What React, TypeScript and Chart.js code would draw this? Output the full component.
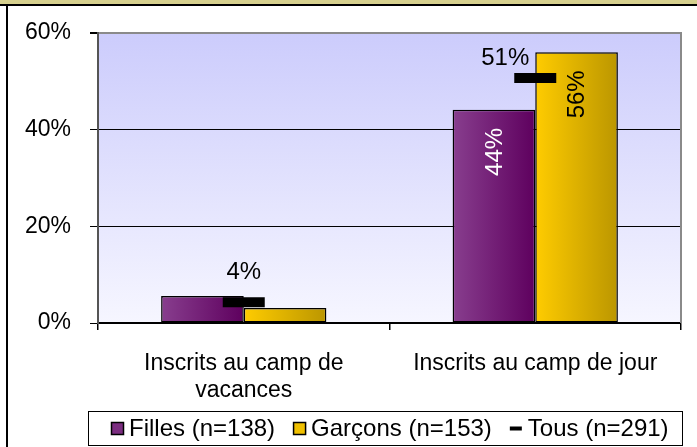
import React, { useEffect, useRef } from 'react';
import { Chart, registerables } from 'chart.js';

Chart.register(...registerables);

const categories: (string | string[])[] = [['Inscrits au camp de', 'vacances'], 'Inscrits au camp de jour'];
const seriesNames = ['Filles (n=138)', 'Garçons (n=153)', 'Tous (n=291)'];
const fillesValues = [5.6, 44.1];
const garconsValues = [3.1, 56.0];
const tousValues = [4.3, 50.7];
const fillesLabels = ['', '44%'];
const garconsLabels = ['', '56%'];
const tousLabels = ['4%', '51%'];
const yTickValues = [0, 20, 40, 60];

const FONT = '"Liberation Sans", Arial, sans-serif';
const CAT_PCT = 0.567;

function barGradient(ctx: any, dsIndex: number, c1: string, c2: string) {
  const chart = ctx.chart;
  const xs = chart.scales && chart.scales.x;
  if (!chart.chartArea || !xs || ctx.dataIndex === undefined) return c1;
  const center = xs.getPixelForValue(ctx.dataIndex);
  const catW = xs.width / categories.length;
  const w = (catW * CAT_PCT) / 2;
  const left = dsIndex === 0 ? center - w : center;
  const g = chart.ctx.createLinearGradient(left, 0, left + w, 0);
  g.addColorStop(0, c1);
  g.addColorStop(1, c2);
  return g;
}

const framePlugin = {
  id: 'frame',
  beforeDraw(chart: any) {
    const { ctx, width, height, chartArea } = chart;
    ctx.save();
    ctx.fillStyle = '#ffffff';
    ctx.fillRect(0, 0, width, height);
    ctx.fillStyle = '#d6d08e';
    ctx.fillRect(0, 0, width, 4);
    ctx.fillStyle = '#000000';
    ctx.fillRect(0, 4, width, 2);
    ctx.fillRect(6, 4, 2, height - 4);
    const g = ctx.createLinearGradient(0, chartArea.top, 0, chartArea.bottom);
    g.addColorStop(0, '#ccccfc');
    g.addColorStop(1, '#f6f6ff');
    ctx.fillStyle = g;
    ctx.fillRect(chartArea.left, chartArea.top, chartArea.right - chartArea.left, chartArea.bottom - chartArea.top);
    ctx.restore();
  },
  beforeDatasetsDraw(chart: any) {
    const { ctx, chartArea } = chart;
    ctx.save();
    ctx.strokeStyle = '#8a8a8a';
    ctx.lineWidth = 2;
    ctx.beginPath();
    ctx.moveTo(chartArea.right, chartArea.top - 1);
    ctx.lineTo(chartArea.right, chartArea.bottom);
    ctx.stroke();
    ctx.restore();
  },
};

const labelsPlugin = {
  id: 'valueLabels',
  afterDatasetsDraw(chart: any) {
    const { ctx } = chart;
    ctx.save();
    ctx.font = `24px ${FONT}`;
    const barLabelSets = [
      { ds: 0, labels: fillesLabels, color: '#ffffff' },
      { ds: 1, labels: garconsLabels, color: '#000000' },
    ];
    barLabelSets.forEach(({ ds, labels, color }) => {
      const meta = chart.getDatasetMeta(ds);
      meta.data.forEach((el: any, i: number) => {
        const txt = labels[i];
        if (!txt) return;
        ctx.save();
        ctx.translate(el.x + 1, el.y + 18);
        ctx.rotate(-Math.PI / 2);
        ctx.fillStyle = color;
        ctx.textAlign = 'right';
        ctx.textBaseline = 'middle';
        ctx.fillText(txt, 0, 0);
        ctx.restore();
      });
    });
    const meta = chart.getDatasetMeta(2);
    meta.data.forEach((el: any, i: number) => {
      const txt = tousLabels[i];
      if (!txt) return;
      const dx = i === 1 ? -30 : 0;
      const dy = i === 1 ? -20 : -30;
      ctx.fillStyle = '#000000';
      ctx.textAlign = 'center';
      ctx.textBaseline = 'middle';
      ctx.fillText(txt, el.x + dx, el.y + dy);
    });
    ctx.restore();
  },
};

const legendPlugin = {
  id: 'boxLegend',
  afterDraw(chart: any) {
    const { ctx } = chart;
    ctx.save();
    const bx = 88.5, by = 411.5, bw = 594, bh = 34;
    ctx.fillStyle = '#ffffff';
    ctx.fillRect(bx, by, bw, bh);
    ctx.strokeStyle = '#000000';
    ctx.lineWidth = 1;
    ctx.strokeRect(bx, by, bw, bh);
    ctx.font = `24px ${FONT}`;
    ctx.textBaseline = 'middle';
    ctx.textAlign = 'left';
    const sym = 13, symGap = 5, itemGap = 18;
    const widths = seriesNames.map((n) => ctx.measureText(n).width);
    const total = widths.reduce((a, b) => a + b, 0) + seriesNames.length * (sym + symGap) + (seriesNames.length - 1) * itemGap;
    let x = Math.round(390 - total / 2);
    const cy = by + bh / 2;
    const fills = ['#7b2d80', '#f0c000'];
    seriesNames.forEach((name, i) => {
      if (i < 2) {
        ctx.fillStyle = fills[i];
        ctx.fillRect(x, cy - 6.5, sym, sym);
        ctx.strokeStyle = '#000000';
        ctx.lineWidth = 1.5;
        ctx.strokeRect(x + 0.5, cy - 6, sym - 1, sym - 1);
      } else {
        ctx.fillStyle = '#000000';
        ctx.fillRect(x, cy - 2, 12, 4);
      }
      x += sym + symGap;
      ctx.fillStyle = '#000000';
      ctx.fillText(name, x, cy + 1);
      x += widths[i] + itemGap;
    });
    ctx.restore();
  },
};

export default function App() {
  const canvasRef = useRef<HTMLCanvasElement | null>(null);

  useEffect(() => {
    if (!canvasRef.current) return;
    Chart.defaults.font.family = FONT;
    const chart = new Chart(canvasRef.current, {
      type: 'bar',
      data: {
        labels: categories,
        datasets: [
          {
            type: 'bar',
            label: seriesNames[0],
            data: fillesValues,
            backgroundColor: (c: any) => barGradient(c, 0, '#883e8e', '#5e005e'),
            borderColor: '#000000',
            borderWidth: 1.5,
            borderSkipped: false,
            categoryPercentage: CAT_PCT,
            barPercentage: 1,
            order: 2,
          },
          {
            type: 'bar',
            label: seriesNames[1],
            data: garconsValues,
            backgroundColor: (c: any) => barGradient(c, 1, '#ffcc00', '#bb9600'),
            borderColor: '#000000',
            borderWidth: 1.5,
            borderSkipped: false,
            categoryPercentage: CAT_PCT,
            barPercentage: 1,
            order: 2,
          },
          {
            type: 'line',
            label: seriesNames[2],
            data: tousValues,
            showLine: false,
            pointStyle: 'line',
            pointRadius: 21,
            pointHoverRadius: 21,
            pointBorderWidth: 10,
            pointHoverBorderWidth: 10,
            pointBorderColor: '#000000',
            pointBackgroundColor: '#000000',
            order: 1,
          } as any,
        ],
      },
      options: {
        responsive: false,
        animation: false,
        events: [],
        layout: { autoPadding: false, padding: { top: 33, right: 16, left: 0, bottom: 0 } },
        plugins: {
          legend: { display: false },
          tooltip: { enabled: false },
        },
        scales: {
          x: {
            offset: true,
            grid: {
              offset: true,
              drawOnChartArea: false,
              drawTicks: true,
              tickLength: 7,
              color: '#000000',
              lineWidth: 1.5,
            },
            border: { color: '#000000', width: 1.5 },
            ticks: {
              color: '#000000',
              font: { size: 23, family: FONT, lineHeight: 1.18 },
              padding: 20,
              maxRotation: 0,
              autoSkip: false,
            },
            afterFit: (s: any) => {
              s.height = 124;
              s.paddingLeft = 0;
              s.paddingRight = 0;
            },
          },
          y: {
            min: 0,
            max: 60,
            afterBuildTicks: (s: any) => {
              s.ticks = yTickValues.map((v) => ({ value: v }));
            },
            grid: {
              color: (c: any) => (c.tick && c.tick.value === 60 ? '#8a8a8a' : '#000000'),
              tickColor: '#000000',
              lineWidth: (c: any) => (c.tick && c.tick.value === 60 ? 2 : 1),
              tickLength: 8,
            },
            border: { color: '#555555', width: 2 },
            ticks: {
              color: '#000000',
              font: { size: 23, family: FONT },
              padding: 19,
              callback: (v: any) => `${v}%`,
            },
            afterFit: (s: any) => {
              s.width = 98;
              s.paddingTop = 0;
              s.paddingBottom = 0;
            },
          },
        },
      },
      plugins: [framePlugin, labelsPlugin, legendPlugin],
    } as any);
    return () => chart.destroy();
  }, []);

  return (
    <div style={{ position: 'absolute', left: 0, top: 0, width: 697, height: 447 }}>
      <canvas ref={canvasRef} width={697} height={447} style={{ display: 'block' }} />
    </div>
  );
}
